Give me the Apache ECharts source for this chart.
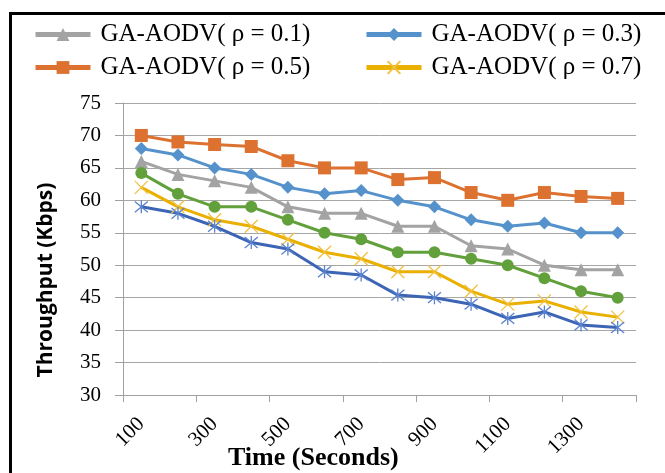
<!DOCTYPE html>
<html>
<head>
<meta charset="utf-8">
<script src="https://cdn.jsdelivr.net/npm/echarts@6/dist/echarts.min.js"></script>
<style>html,body{margin:0;padding:0;background:#fff;}#c{width:665px;height:473px;}</style>
</head>
<body>
<div id="c"></div>
<script>
var categories = ['100','200','300','400','500','600','700','800','900','1000','1100','1200','1300','1400'];
var yTicks = [30, 35, 40, 45, 50, 55, 60, 65, 70, 75];
var legendNames = ['GA-AODV( ρ = 0.1)', 'GA-AODV( ρ = 0.3)', 'GA-AODV( ρ = 0.5)', 'GA-AODV( ρ = 0.7)'];
var rho01 = [66, 64, 63, 62, 59, 58, 58, 56, 56, 53, 52.5, 50, 49.3, 49.3];
var rho03 = [68, 67, 65, 64, 62, 61, 61.5, 60, 59, 57, 56, 56.5, 55, 55];
var rho05 = [70, 69, 68.6, 68.3, 66.1, 65, 65, 63.2, 63.5, 61.2, 60, 61.2, 60.6, 60.3];
var rho07 = [62, 59, 57, 56, 54, 52, 51, 49, 49, 46, 44, 44.5, 42.8, 42];
var series5 = [64.2, 61, 59, 59, 57, 55, 54, 52, 52, 51, 50, 48, 46, 45];
var series6 = [59, 58, 56, 53.5, 52.5, 49, 48.5, 45.4, 45, 44, 41.8, 42.8, 40.8, 40.4];

var serif = '"Liberation Serif", "Times New Roman", serif';
var chart = echarts.init(document.getElementById('c'), null, {renderer: 'canvas'});

function mkLegend(name, left, top) {
  return {
    data: [name], left: left, top: top, padding: 0,
    itemWidth: 55, itemHeight: 16,
    lineStyle: {width: 5},
    textStyle: {fontFamily: serif, fontSize: 25, color: '#000', padding: [0, 0, 0, 5]},
    selectedMode: false
  };
}

var crossPath = 'path://M0,0L10,10M10,0L0,10';
var starPath = 'path://M0,0L10,10M10,0L0,10M5,-1L5,11';

chart.setOption({
  animation: false,
  backgroundColor: '#fff',
  grid: {left: 123, right: 29, top: 103, bottom: 78, containLabel: false},
  legend: [
    mkLegend(legendNames[0], 33, 22),
    mkLegend(legendNames[1], 364, 22),
    mkLegend(legendNames[2], 33, 55),
    mkLegend(legendNames[3], 364, 55)
  ],
  xAxis: {
    type: 'category', data: categories, boundaryGap: true,
    axisLine: {lineStyle: {color: '#a0a0a0', width: 1}},
    axisTick: {show: true, length: 7, lineStyle: {color: '#a0a0a0'}},
    axisLabel: {interval: 1, rotate: 45, margin: 26, fontFamily: serif, fontSize: 21, color: '#000'},
    splitLine: {show: false}
  },
  yAxis: {
    type: 'value', min: yTicks[0], max: yTicks[yTicks.length - 1], interval: 5,
    axisLine: {show: true, lineStyle: {color: '#a0a0a0', width: 1}},
    axisTick: {show: true, length: 8, lineStyle: {color: '#a0a0a0'}},
    axisLabel: {margin: 22, fontFamily: serif, fontSize: 21, color: '#000'},
    splitLine: {lineStyle: {color: '#a6a6a6', width: 1}}
  },
  graphic: [
    {type: 'rect', silent: true, z: 100, shape: {x: 10.5, y: 13.5, width: 720, height: 520},
     style: {fill: 'none', stroke: '#000', lineWidth: 3}},
    {type: 'text', x: 228, y: 458, z: 50, style: {text: 'Time (Seconds)', font: 'bold 26px "Liberation Serif"', fill: '#000', textVerticalAlign: 'middle'}},
    {type: 'text', x: 46, y: 280, rotation: Math.PI / 2, z: 50, style: {text: 'Throughput (Kbps)', font: 'bold 21px "Open Sans"', fill: '#000', textAlign: 'center', textVerticalAlign: 'middle'}}
  ],
  series: [
    {name: legendNames[0], type: 'line', data: rho01, symbol: 'triangle', symbolSize: 13,
     lineStyle: {color: '#a3a3a3', width: 3}, itemStyle: {color: '#a3a3a3', borderWidth: 0}},
    {name: legendNames[1], type: 'line', data: rho03, symbol: 'diamond', symbolSize: 13,
     lineStyle: {color: '#5592cc', width: 3}, itemStyle: {color: '#5592cc', borderWidth: 0}},
    {name: legendNames[2], type: 'line', data: rho05, symbol: 'rect', symbolSize: 13,
     lineStyle: {color: '#dc7130', width: 3}, itemStyle: {color: '#dc7130', borderWidth: 0}},
    {name: legendNames[3], type: 'line', data: rho07, symbol: crossPath, symbolSize: 13,
     lineStyle: {color: '#eab000', width: 3}, itemStyle: {color: '#f2c040', borderColor: '#f2c040', borderWidth: 1.3}},
    {name: 'series5', type: 'line', data: series5, symbol: 'circle', symbolSize: 12,
     lineStyle: {color: '#62a03c', width: 3}, itemStyle: {color: '#62a03c', borderWidth: 0}},
    {name: 'series6', type: 'line', data: series6, symbol: starPath, symbolSize: 13,
     lineStyle: {color: '#3d65b5', width: 3}, itemStyle: {color: '#5a82cf', borderColor: '#5a82cf', borderWidth: 1.3}}
  ]
});
</script>
</body>
</html>
